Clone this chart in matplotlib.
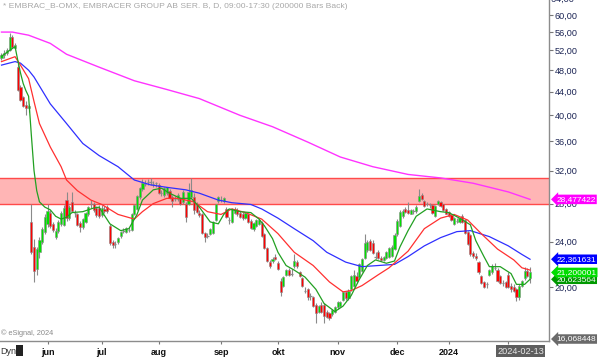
import matplotlib
matplotlib.use("Agg")
import matplotlib.pyplot as plt
import matplotlib.ticker as mticker
import matplotlib.transforms as mtrans
from matplotlib.patches import Rectangle
import pandas as pd

plt.rcParams['font.family'] = ['Liberation Sans', 'DejaVu Sans']

# daily OHLC (SEK)
opens = [50.5, 51.0, 51.5, 52.0, 54.8, 52.6, 48.7, 44.8, 43.0, 41.7, 41.2, 26.0, 23.5, 21.5, 23.0, 24.0, 25.0, 25.8, 27.0, 25.8,
         24.5, 25.1, 25.8, 25.7, 28.4, 26.4, 28.2, 27.0, 26.8, 25.9, 25.5, 26.0, 26.8, 27.9, 28.0, 27.5, 27.5, 26.7, 27.4, 27.6,
         25.6, 24.0, 23.8, 24.0, 24.6, 25.1, 25.0, 25.2, 25.2, 26.9, 27.4, 28.7, 29.7, 30.4, 30.5, 30.4, 30.4, 30.3, 30.2, 29.3,
         29.0, 29.2, 29.5, 28.8, 28.6, 28.5, 28.6, 28.2, 27.9, 28.0, 28.8, 28.8, 28.0, 27.0, 26.8, 24.9, 24.7, 24.8, 24.9, 26.2,
         28.3, 28.5, 28.3, 27.4, 26.3, 26.0, 27.0, 27.3, 27.0, 26.9, 26.4, 26.8, 26.1, 25.3, 25.6, 25.8, 25.9, 24.8, 23.4, 22.1,
         22.2, 22.6, 22.0, 20.5, 20.1, 21.0, 21.4, 21.2, 21.8, 22.1, 21.2, 20.7, 19.8, 19.8, 19.2, 19.2, 18.6, 18.1, 18.6, 18.6,
         18.1, 18.0, 17.9, 18.1, 18.4, 18.5, 19.0, 19.6, 19.1, 19.8, 20.1, 20.9, 20.8, 21.3, 22.5, 23.2, 24.1, 23.9, 22.7, 23.0,
         22.5, 22.3, 22.5, 22.6, 22.7, 23.3, 24.8, 25.6, 26.6, 27.4, 27.3, 26.9, 27.1, 27.2, 28.3, 29.0, 28.3, 27.9, 27.9, 27.8,
         26.6, 27.9, 28.2, 27.9, 27.4, 27.1, 26.7, 25.8, 26.2, 26.0, 26.6, 26.2, 25.0, 24.7, 22.9, 22.7, 22.1, 20.9, 20.4, 20.1,
         21.0, 21.2, 21.7, 21.4, 20.9, 20.4, 20.4, 21.0, 20.1, 20.0, 19.8, 19.2, 20.1, 20.7, 21.3, 20.7]
highs = [51.5, 52.0, 52.5, 55.8, 55.3, 53.5, 49.4, 45.2, 43.3, 42.3, 41.8, 28.0, 24.3, 23.5, 24.5, 25.5, 26.8, 28.0, 27.3, 26.0,
         25.4, 26.2, 27.2, 27.8, 29.4, 27.8, 29.4, 27.3, 27.0, 26.1, 26.4, 27.1, 27.7, 28.4, 28.2, 27.7, 27.8, 27.8, 27.7, 27.8,
         25.8, 24.2, 24.1, 24.5, 25.1, 25.4, 25.5, 25.5, 27.0, 28.0, 29.0, 29.9, 30.9, 30.8, 30.9, 31.0, 30.7, 30.6, 30.4, 29.6,
         29.9, 30.0, 29.7, 29.0, 28.9, 29.2, 28.8, 29.6, 28.2, 30.4, 31.1, 29.2, 28.2, 27.3, 27.0, 25.0, 24.9, 25.4, 26.1, 28.0,
         28.9, 28.9, 28.8, 27.6, 26.5, 27.5, 27.6, 27.5, 27.2, 27.1, 27.1, 26.9, 26.3, 26.0, 26.3, 26.4, 26.1, 24.9, 23.5, 22.3,
         22.6, 22.8, 22.2, 20.7, 20.9, 21.5, 21.6, 21.5, 22.8, 22.3, 21.3, 20.8, 20.0, 19.9, 19.5, 19.3, 18.7, 18.6, 18.8, 18.7,
         18.2, 18.1, 18.3, 18.5, 18.9, 18.9, 19.7, 19.7, 19.8, 21.0, 21.4, 21.2, 22.0, 22.5, 24.8, 24.2, 24.3, 24.2, 23.0, 23.2,
         22.7, 22.7, 23.1, 23.5, 23.7, 24.9, 26.3, 27.3, 27.4, 27.6, 28.2, 27.4, 27.4, 27.8, 29.7, 29.2, 28.4, 28.2, 28.1, 27.9,
         27.8, 28.4, 28.3, 28.0, 27.5, 27.2, 26.8, 26.5, 26.4, 26.5, 26.8, 26.3, 25.1, 24.8, 23.1, 22.9, 22.2, 21.0, 20.5, 20.4,
         21.5, 21.9, 22.0, 21.6, 21.0, 20.6, 20.5, 21.2, 20.3, 20.2, 19.9, 20.2, 20.6, 21.7, 21.6, 21.7]
lows = [50.0, 50.5, 51.0, 51.8, 52.5, 52.2, 44.2, 42.4, 41.4, 40.0, 40.5, 22.8, 20.4, 21.0, 22.5, 23.8, 24.8, 25.5, 25.4, 25.0,
        24.3, 24.9, 25.6, 25.6, 26.1, 26.2, 27.1, 26.5, 25.6, 25.0, 25.3, 25.9, 26.6, 27.5, 27.1, 26.5, 26.4, 26.5, 27.0, 27.0,
        23.7, 23.4, 23.4, 23.8, 24.4, 24.9, 24.9, 25.0, 25.1, 26.7, 27.3, 28.5, 29.5, 30.1, 30.2, 30.2, 30.0, 30.0, 29.1, 28.9,
        28.8, 29.0, 28.5, 27.6, 28.3, 28.3, 27.8, 28.0, 26.0, 27.8, 28.6, 26.9, 27.0, 26.5, 24.8, 24.0, 24.4, 24.7, 24.8, 26.1,
        28.1, 28.2, 28.1, 26.4, 25.8, 25.9, 26.8, 26.6, 26.4, 26.2, 26.3, 25.9, 25.3, 25.1, 25.5, 25.7, 24.5, 23.3, 22.1, 21.6,
        22.0, 22.3, 21.4, 19.3, 20.0, 20.9, 20.9, 20.9, 21.6, 21.6, 20.8, 20.0, 19.5, 19.0, 19.0, 18.4, 17.3, 18.0, 18.0, 17.3,
        17.6, 17.5, 17.8, 18.0, 18.3, 18.4, 18.9, 19.0, 19.0, 19.7, 20.0, 20.3, 20.7, 21.2, 22.4, 23.0, 23.1, 22.8, 22.4, 22.4,
        22.2, 22.2, 22.4, 22.5, 22.6, 23.2, 24.6, 25.5, 26.4, 27.0, 26.9, 26.8, 26.9, 27.0, 28.2, 28.4, 27.6, 27.7, 27.5, 26.8,
        26.5, 27.8, 27.6, 27.2, 26.8, 26.5, 26.1, 25.7, 25.9, 25.9, 25.9, 24.8, 23.7, 22.7, 22.5, 22.3, 21.1, 20.2, 19.9, 19.9,
        20.9, 21.1, 21.4, 20.4, 20.2, 20.1, 19.9, 19.9, 19.6, 19.6, 18.9, 19.0, 20.0, 20.6, 20.8, 20.3]
closes = [51.0, 51.5, 52.0, 55.0, 52.8, 53.2, 44.4, 42.6, 41.6, 41.2, 41.5, 23.0, 21.3, 23.3, 24.2, 25.3, 26.5, 27.2, 25.6, 25.2,
          25.1, 26.0, 27.0, 27.5, 26.4, 27.6, 27.2, 27.0, 25.7, 25.5, 26.3, 27.0, 27.6, 28.0, 27.3, 26.7, 26.6, 27.5, 27.2, 27.2,
          23.9, 23.7, 23.8, 24.4, 25.0, 25.1, 25.4, 25.2, 26.9, 27.8, 28.9, 29.8, 30.4, 30.3, 30.6, 30.5, 30.3, 30.4, 29.2, 29.2,
          29.8, 29.9, 28.6, 28.3, 28.5, 29.0, 28.0, 29.4, 26.5, 29.4, 29.6, 27.3, 27.1, 26.7, 24.9, 24.5, 24.6, 25.3, 26.0, 27.9,
          28.7, 28.4, 28.6, 26.5, 26.2, 27.4, 27.4, 26.8, 26.5, 26.4, 27.0, 26.0, 25.4, 25.9, 26.2, 26.2, 24.6, 23.4, 22.2, 21.8,
          22.4, 22.4, 21.5, 19.6, 20.8, 21.4, 21.0, 21.1, 22.2, 21.8, 20.9, 20.1, 19.7, 19.2, 19.3, 18.5, 18.0, 18.5, 18.1, 17.8,
          17.7, 17.6, 18.2, 18.4, 18.8, 18.8, 19.6, 19.1, 19.7, 20.9, 21.0, 20.5, 21.9, 22.4, 23.9, 24.0, 23.2, 22.9, 22.6, 22.5,
          22.3, 22.6, 23.0, 23.4, 23.5, 24.7, 26.1, 27.1, 27.2, 27.1, 27.0, 27.3, 27.2, 27.6, 28.9, 28.5, 27.7, 28.0, 27.8, 27.0,
          27.7, 28.3, 27.7, 27.3, 26.9, 26.6, 26.2, 26.4, 26.1, 26.4, 26.0, 24.9, 23.8, 22.8, 22.7, 22.5, 21.2, 20.3, 20.0, 20.2,
          21.4, 21.8, 21.6, 20.5, 20.3, 20.3, 20.0, 20.0, 19.8, 19.7, 19.2, 20.1, 20.5, 21.3, 20.9, 21.2]

# moving averages, read at sample bars
green_bars = [0, 3, 5, 6, 7, 8, 9, 10, 11, 12, 13, 14, 16, 18, 20, 22, 24, 26, 30, 34, 36, 40, 44, 47, 50, 52, 56, 59, 62, 66,
              70, 73, 77, 80, 82, 84, 88, 92, 95, 97, 100, 102, 105, 108, 112, 116, 119, 123, 126, 129, 132, 135, 138, 142,
              145, 147, 150, 153, 157, 162, 165, 169, 173, 175, 178, 180, 184, 188, 190, 193, 195]
green_ma = [50.8, 52.0, 52.8, 50.0, 47.5, 45.5, 44.2, 43.2, 37.0, 32.0, 29.5, 28.2, 27.6, 27.3, 26.6, 26.3, 26.5, 27.0, 27.1,
            27.5, 27.6, 25.8, 25.1, 25.3, 26.8, 28.4, 29.6, 29.8, 29.2, 28.6, 28.6, 27.6, 26.0, 25.8, 26.8, 27.4, 27.1, 27.0,
            26.3, 25.6, 24.3, 23.0, 21.8, 21.4, 20.8, 19.8, 18.7, 18.1, 18.5, 19.3, 20.6, 21.8, 22.3, 22.0, 22.2, 23.5, 25.1,
            26.6, 27.4, 27.1, 27.0, 26.4, 25.7, 24.1, 22.6, 21.7, 21.7, 21.1, 20.2, 20.2, 20.62]
red_bars = [0, 5, 7, 10, 12, 14, 18, 22, 24, 28, 33, 37, 43, 49, 52, 56, 61, 65, 71, 76, 81, 85, 90, 96, 102, 108, 115, 121,
            126, 129, 133, 139, 143, 150, 156, 162, 167, 172, 177, 183, 189, 192, 195]
red_ma = [49.7, 50.7, 49.0, 46.4, 42.3, 38.7, 35.2, 32.5, 30.8, 29.5, 28.4, 27.9, 26.8, 26.3, 27.1, 28.0, 28.6, 28.6, 28.2,
          27.1, 26.8, 27.4, 27.0, 26.3, 24.8, 23.0, 21.8, 20.4, 19.6, 19.7, 20.1, 21.0, 21.6, 23.1, 25.3, 26.4, 26.8, 26.2,
          24.8, 23.3, 22.3, 21.6, 21.4]
blue_bars = [0, 5, 7, 10, 12, 18, 24, 30, 36, 43, 49, 55, 61, 68, 73, 80, 85, 92, 96, 102, 108, 115, 120, 127, 133, 139,
             145, 150, 156, 162, 168, 173, 180, 187, 192, 195]
blue_ma = [49.0, 49.7, 49.4, 48.0, 46.7, 41.9, 38.7, 35.7, 34.0, 32.5, 30.8, 30.2, 29.9, 29.6, 29.2, 28.4, 28.1, 27.9, 27.4,
           26.4, 25.3, 24.1, 23.0, 22.1, 21.7, 21.8, 21.9, 22.6, 23.6, 24.4, 25.0, 25.1, 24.5, 23.6, 22.8, 22.36]
magenta_bars = [0, 4, 10, 18, 24, 36, 49, 61, 73, 88, 100, 113, 125, 137, 150, 162, 174, 187, 195]
magenta_ma = [56.0, 56.0, 55.3, 53.5, 51.2, 48.6, 46.0, 44.4, 42.8, 40.0, 38.2, 35.9, 33.8, 32.5, 31.5, 31.06, 30.4, 29.35,
              28.48]

band_low, band_high = 27.9, 31.05
y_ticks = [20, 24, 28, 32, 36, 40, 44, 48, 52, 56, 60]
month_names = ['jun', 'jul', 'aug', 'sep', 'okt', 'nov', 'dec', '2024', '']

holidays = ['2023-05-18', '2023-06-06', '2023-06-23', '2023-12-25', '2023-12-26', '2024-01-01']
dates = pd.bdate_range('2023-05-08', '2024-02-13')
dates = dates[~dates.isin(pd.to_datetime(holidays))][:len(closes)]
month_idx = [i for i in range(1, len(dates)) if dates[i].month != dates[i - 1].month]

fig = plt.figure(figsize=(6, 3.57), dpi=100)
ax = fig.add_axes([0, 16 / 357, 549 / 600, 341 / 357])
ax.set_yscale('log')

ax.axhspan(band_low, band_high, facecolor='#ffb5b5', edgecolor='none', zorder=0)
ax.axhline(band_low, color='#ff4a4a', lw=1, zorder=0.5)
ax.axhline(band_high, color='#ff4a4a', lw=1, zorder=0.5)

for i in range(len(closes)):
    o, h, l, c = opens[i], highs[i], lows[i], closes[i]
    ax.vlines(i, l, h, color='#8a8a8a', lw=0.8, zorder=2)
    if abs(c - o) < 0.12:
        ax.hlines(c, i - 0.4, i + 0.4, color='#8a8a8a', lw=0.9, zorder=3)
    else:
        col = '#00e000' if c > o else '#ff0000'
        ax.bar(i, abs(c - o), bottom=min(o, c), width=0.8, color=col,
               edgecolor='#8a8a8a', linewidth=0.4, zorder=3)

ax.plot(magenta_bars, magenta_ma, color='#ff33ff', lw=1, zorder=4)
ax.plot(blue_bars, blue_ma, color='#2f2fff', lw=0.9, zorder=4)
ax.plot(red_bars, red_ma, color='#ff3030', lw=0.9, zorder=4)
ax.plot(green_bars, green_ma, color='#22a022', lw=0.9, zorder=4)

ax.set_xlim(-0.55, 202)
ax.set_ylim(16.068448, 63.75)

ax.yaxis.tick_right()
ax.yaxis.set_major_locator(mticker.FixedLocator(y_ticks))
ax.yaxis.set_minor_locator(mticker.NullLocator())
ax.yaxis.set_major_formatter(mticker.FuncFormatter(lambda v, p: f"{v:.2f}".replace('.', ',')))
ax.tick_params(axis='y', direction='out', length=3, width=0.8, color='#777777',
               labelsize=6.6, labelcolor='#1c2555', pad=1)
# the 64 label sits half outside the top edge
ax.text(1.0, 64, '-64,00', transform=mtrans.blended_transform_factory(ax.transAxes, ax.transData),
        color='#1c2555', fontsize=6.6, va='center', ha='left', clip_on=False)

ax.set_xticks(month_idx)
ax.set_xticklabels(month_names[:len(month_idx)], fontweight='bold')
ax.tick_params(axis='x', direction='out', length=2, width=0.8, color='#777777',
               labelsize=6.5, labelcolor='#111111', pad=3)

for s in ['left', 'top']:
    ax.spines[s].set_visible(False)
for s in ['right', 'bottom']:
    ax.spines[s].set_color('#8c8c8c')
    ax.spines[s].set_linewidth(1)

# price labels on the right axis
trans = mtrans.blended_transform_factory(ax.transAxes, ax.transData)
labels = [(magenta_ma[-1], '28,477422', '#ff00ff'),
          (blue_ma[-1], '22,361631', '#0000ff'),
          (green_ma[-1], '20,623564', '#009900'),
          (closes[-1], '21,200001', '#00dd00'),
          (16.068448, '16,068448', '#6a6a6a')]
for val, txt, col in labels:
    ax.text(1.013, val * (1.008 if val < 17 else 1), txt, transform=trans, color='white', fontsize=6.0,
            va='center', ha='left', clip_on=False, zorder=10,
            bbox=dict(boxstyle='larrow,pad=0.15', fc=col, ec='none'))

fig.text(3 / 600, 1 - 6 / 357, '* EMBRAC_B-OMX, EMBRACER GROUP AB SER. B, D, 09:00-17:30 (200000 Bars Back)',
         color='#a8a8a8', fontsize=6.1, va='center', ha='left')
fig.text(1 / 600, 1 - 333 / 357, '\u00a9 eSignal, 2024', color='#8a8a8a', fontsize=5.3, va='center', ha='left')
fig.text(0, 1 - 351 / 357, 'Dyn', color='#333333', fontsize=6.5, va='center', ha='left')
fig.patches.append(Rectangle((16 / 600, 1 - 356 / 357), 7 / 600, 11 / 357, transform=fig.transFigure,
                             facecolor='#222222', edgecolor='none'))
fig.text(497 / 600, 1 - 351 / 357, '2024-02-13', color='#e8e8e8', fontsize=6.6, va='center', ha='left',
         bbox=dict(boxstyle='square,pad=0.15', fc='#5e5e5e', ec='none'))

fig.savefig('out.png', dpi=100)
